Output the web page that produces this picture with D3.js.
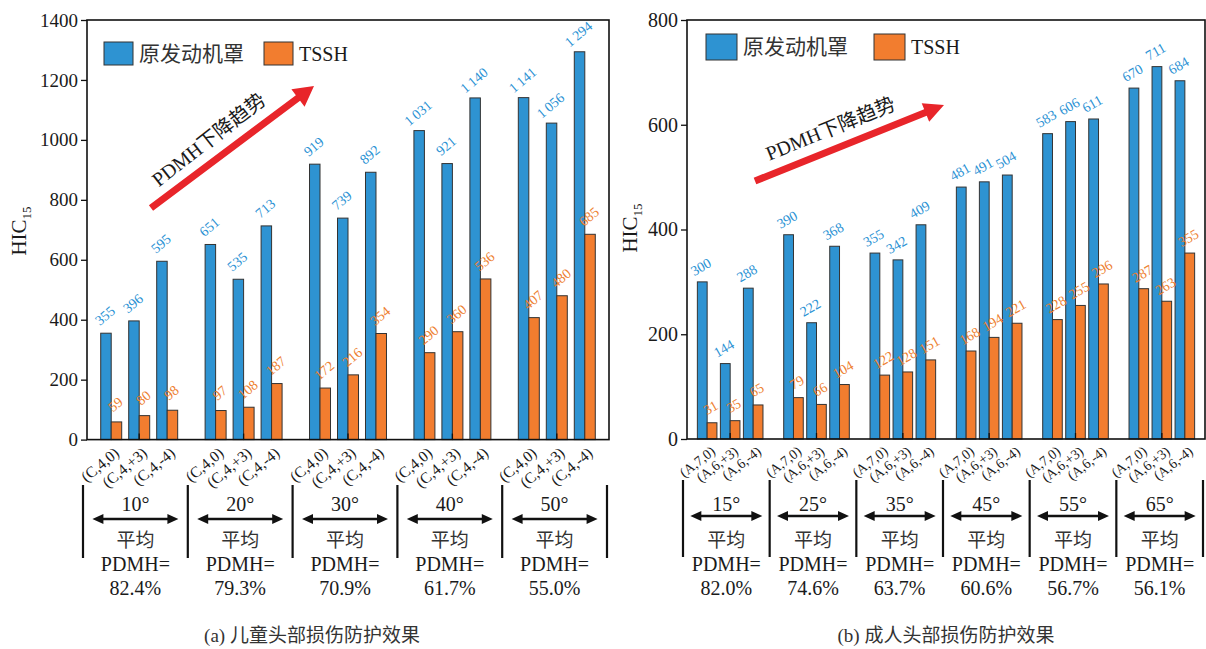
<!DOCTYPE html>
<html>
<head>
<meta charset="utf-8">
<script src="https://cdn.jsdelivr.net/npm/d3@7"></script>
<style>
  html, body { margin: 0; padding: 0; background: #fff; }
  svg { display: block; }
  text { font-family: "Liberation Serif", "Times New Roman", "Noto Sans CJK SC", serif; fill: #1a1a1a; }
</style>
</head>
<body>
<svg id="chart" width="1206" height="649" font-family="Liberation Serif, Noto Sans CJK SC, serif"></svg>
<script>
// ---- data: child head impact (a) ----
const childCases = ["(C,4,0)", "(C,4,+3)", "(C,4,-4)"];
const childAngles = ["10°", "20°", "30°", "40°", "50°"];
const childHood = [[355, 396, 595], [651, 535, 713], [919, 739, 892], [1031, 921, 1140], [1141, 1056, 1294]];
const childTssh = [[59, 80, 98], [97, 108, 187], [172, 216, 354], [290, 360, 536], [407, 480, 685]];
const childPdmh = ["82.4%", "79.3%", "70.9%", "61.7%", "55.0%"];
const childTicks = [0, 200, 400, 600, 800, 1000, 1200, 1400];

// ---- data: adult head impact (b) ----
const adultCases = ["(A,7,0)", "(A,6,+3)", "(A,6,-4)"];
const adultAngles = ["15°", "25°", "35°", "45°", "55°", "65°"];
const adultHood = [[300, 144, 288], [390, 222, 368], [355, 342, 409], [481, 491, 504], [583, 606, 611], [670, 711, 684]];
const adultTssh = [[31, 35, 65], [79, 66, 104], [122, 128, 151], [168, 194, 221], [228, 255, 296], [287, 263, 355]];
const adultPdmh = ["82.0%", "74.6%", "63.7%", "60.6%", "56.7%", "56.1%"];
const adultTicks = [0, 200, 400, 600, 800];

const seriesNames = ["原发动机罩", "TSSH"];
const trendText = "PDMH下降趋势";
const avgText = "平均";
const pdmhText = "PDMH=";

const BLUE = "#2e93d2", ORANGE = "#f27d2f", RED = "#e8252a";
const BLUE_TXT = "#2b92d4", ORANGE_TXT = "#ee7f31";
const SERIF = "Liberation Serif, Times New Roman, serif";
const MIXED = "Liberation Serif, Noto Sans CJK SC, serif";
const CJK = "Noto Sans CJK SC, sans-serif";

const svg = d3.select("#chart");
const fmt = d3.formatLocale({decimal: ".", thousands: "\u2009", grouping: [3], currency: ["", ""]}).format(",");

function drawPanel(o) {
  const g = svg.append("g");
  const nG = o.angles.length;
  const y = d3.scaleLinear().domain([0, o.ticks[o.ticks.length - 1]]).range([o.y1, o.y0]);
  const outer = d3.scaleBand().domain(d3.range(nG)).range([o.x0, o.x1]).padding(0);
  const inner = d3.scaleBand().domain(o.cases).range([0, outer.bandwidth()])
    .paddingInner(o.padIn).paddingOuter(o.padOut);
  const bw = inner.bandwidth() / 2;

  // bars: hood (blue) and TSSH (orange) side by side for every case
  const rows = [];
  o.hood.forEach((vals, gi) => vals.forEach((v, ci) => {
    const px = outer(gi) + inner(o.cases[ci]);
    rows.push({x: px, v: v, fill: BLUE, tc: BLUE_TXT});
    rows.push({x: px + bw, v: o.tssh[gi][ci], fill: ORANGE, tc: ORANGE_TXT});
  }));
  g.selectAll("rect.bar").data(rows).join("rect")
    .attr("class", "bar")
    .attr("x", d => d.x).attr("width", bw)
    .attr("y", d => y(d.v)).attr("height", d => y(0) - y(d.v))
    .attr("fill", d => d.fill).attr("stroke", "#333").attr("stroke-width", 1);

  // value labels
  g.selectAll("text.val").data(rows).join("text")
    .attr("class", "val")
    .attr("text-anchor", "middle")
    .attr("font-size", o.valSize)
    .style("font-family", SERIF)
    .style("fill", d => d.tc)
    .attr("transform", d => `translate(${d.x + bw / 2 + o.valDx},${y(d.v) - o.valGap}) rotate(${o.valRot})`)
    .text(d => fmt(d.v));

  // axes
  const ya = g.append("g").attr("transform", `translate(${o.x0},0)`)
    .call(d3.axisLeft(y).tickValues(o.ticks).tickFormat(d3.format("d"))
      .tickSize(6).tickSizeOuter(0).tickPadding(3));
  ya.selectAll("text").attr("font-size", o.tickSize).style("font-family", SERIF);
  g.append("g").attr("transform", `translate(0,${o.y1})`)
    .call(d3.axisBottom(outer).tickSizeInner(-6).tickSizeOuter(0).tickFormat(""));
  g.selectAll(".domain").remove();
  g.selectAll(".tick line").attr("stroke", "#111").attr("stroke-width", 1.3);
  g.append("rect").attr("x", o.x0).attr("y", o.y0).attr("width", o.x1 - o.x0).attr("height", o.y1 - o.y0)
    .attr("fill", "none").attr("stroke", "#111").attr("stroke-width", 1.6);

  // case labels under each bar pair
  const cl = [];
  o.hood.forEach((vals, gi) => o.cases.forEach(c => cl.push({x: outer(gi) + inner(c) + bw, t: c})));
  g.selectAll("text.cat").data(cl).join("text")
    .attr("class", "cat").attr("text-anchor", "end").attr("font-size", o.catSize)
    .style("font-family", SERIF)
    .attr("transform", d => `translate(${d.x + o.catDx},${o.y1 + o.catDy}) rotate(${o.catRot})`)
    .text(d => d.t);

  // y title
  const yt = g.append("text").attr("text-anchor", "middle").attr("font-size", 21)
    .style("font-family", SERIF)
    .attr("transform", `translate(${o.titleX},${o.titleY}) rotate(-90)`);
  yt.append("tspan").text("HIC");
  yt.append("tspan").attr("font-size", 13).attr("dy", 5).text("15");

  // legend
  const lg = g.append("g");
  lg.append("rect").attr("x", o.leg[0]).attr("y", o.leg[1]).attr("width", o.leg[2]).attr("height", o.leg[3])
    .attr("fill", BLUE).attr("stroke", "#333");
  lg.append("text").attr("x", o.leg[0] + o.leg[2] + 6).attr("y", o.leg[1] + o.leg[3] / 2 + 7)
    .attr("font-size", 21).style("font-family", CJK).style("fill", "#333").text(seriesNames[0]);
  lg.append("rect").attr("x", o.leg[4]).attr("y", o.leg[1]).attr("width", o.leg[2]).attr("height", o.leg[3])
    .attr("fill", ORANGE).attr("stroke", "#333");
  lg.append("text").attr("x", o.leg[4] + o.leg[2] + 6).attr("y", o.leg[1] + o.leg[3] / 2 + 7)
    .attr("font-size", 20).style("font-family", SERIF).text(seriesNames[1]);

  // trend arrow
  const [tx, ty, hx, hy] = o.arrow;
  const ang = Math.atan2(hy - ty, hx - tx);
  const ux = Math.cos(ang), uy = Math.sin(ang), nx = -uy, ny = ux;
  const hl = o.headLen, hw = o.headHalf, sw = o.shaft / 2;
  const bx = hx - ux * hl, by = hy - uy * hl;
  const pts = [
    [tx + nx * sw, ty + ny * sw], [bx + nx * sw, by + ny * sw], [bx + nx * hw, by + ny * hw],
    [hx, hy], [bx - nx * hw, by - ny * hw], [bx - nx * sw, by - ny * sw], [tx - nx * sw, ty - ny * sw]
  ];
  g.append("polygon").attr("points", pts.map(p => p.join(",")).join(" ")).attr("fill", RED);
  g.append("text").attr("text-anchor", "middle").attr("font-size", 20).style("font-family", MIXED)
    .attr("transform", `translate(${o.trendPos[0]},${o.trendPos[1]}) rotate(${o.trendPos[2]})`)
    .text(trendText);

  // angle / average PDMH annotation under the axis
  const ax = d3.scaleLinear().domain([0, nG]).range([o.annX0, o.annX1]);
  g.selectAll("line.sep").data(d3.range(nG + 1)).join("line")
    .attr("class", "sep")
    .attr("x1", i => ax(i)).attr("x2", i => ax(i))
    .attr("y1", o.sepY[0]).attr("y2", o.sepY[1])
    .attr("stroke", "#111").attr("stroke-width", 2.2);
  const ann = g.selectAll("g.ann").data(o.angles).join("g").attr("class", "ann")
    .attr("transform", (d, i) => `translate(${(ax(i) + ax(i + 1)) / 2},0)`);
  ann.append("text").attr("text-anchor", "middle").attr("y", 511).attr("font-size", 20)
    .style("font-family", SERIF).text(d => d);
  const half = o.dblHalf;
  ann.append("line").attr("x1", -half + 8).attr("x2", half - 8).attr("y1", o.dblY).attr("y2", o.dblY)
    .attr("stroke", "#111").attr("stroke-width", 2.4);
  ann.append("path").attr("d", `M${-half},${o.dblY} l11,-5 l0,10 z M${half},${o.dblY} l-11,-5 l0,10 z`)
    .attr("fill", "#111");
  ann.append("text").attr("text-anchor", "middle").attr("y", 547).attr("font-size", 19)
    .style("font-family", CJK).style("fill", "#333").text(avgText);
  ann.append("text").attr("text-anchor", "middle").attr("y", 571).attr("font-size", 20)
    .style("font-family", SERIF).text(pdmhText);
  ann.append("text").attr("text-anchor", "middle").attr("y", 595).attr("font-size", 20)
    .style("font-family", SERIF).text((d, i) => o.pdmh[i]);

  // caption
  g.append("text").attr("text-anchor", "middle").attr("x", o.capX).attr("y", 642).attr("font-size", 19)
    .style("font-family", MIXED).style("fill", "#333").text(o.caption);
}

drawPanel({
  cases: childCases, angles: childAngles, hood: childHood, tssh: childTssh, pdmh: childPdmh, ticks: childTicks,
  caption: "(a) 儿童头部损伤防护效果",
  x0: 87, x1: 609, y0: 20, y1: 439.6, padIn: 0.25, padOut: 0.49,
  valSize: 14, valGap: 14, valDx: 2, valRot: -40, tickSize: 19,
  catSize: 15.5, catDx: 9, catDy: 15, catRot: -40,
  titleX: 26, titleY: 231,
  leg: [104, 42, 29, 23, 264],
  arrow: [151, 208, 314, 86], headLen: 20, headHalf: 11, shaft: 7,
  trendPos: [213, 145, -38],
  annX0: 83, annX1: 607, sepY: [485, 558], dblY: 519, dblHalf: 43,
  capX: 312
});

drawPanel({
  cases: adultCases, angles: adultAngles, hood: adultHood, tssh: adultTssh, pdmh: adultPdmh, ticks: adultTicks,
  caption: "(b) 成人头部损伤防护效果",
  x0: 687, x1: 1205, y0: 20, y1: 439, padIn: 0.15, padOut: 0.45,
  valSize: 14, valGap: 11, valDx: 1, valRot: -30, tickSize: 20,
  catSize: 14, catDx: 9, catDy: 14, catRot: -38,
  titleX: 637, titleY: 228,
  leg: [706, 34, 31, 26, 874],
  arrow: [755, 181, 944, 105], headLen: 20, headHalf: 10, shaft: 7,
  trendPos: [833, 135, -22],
  annX0: 683, annX1: 1203, sepY: [480, 557], dblY: 516, dblHalf: 36,
  capX: 946
});
</script>
</body>
</html>
